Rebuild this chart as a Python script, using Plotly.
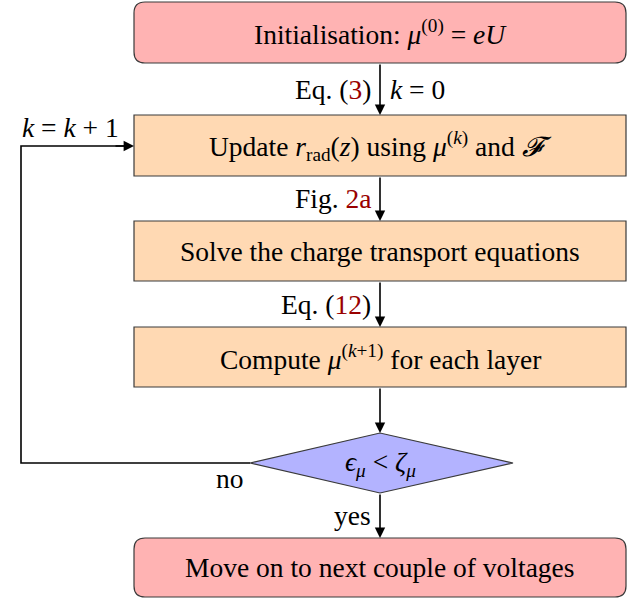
"""
Flowchart of the iterative mu / r_rad update loop, drawn with Plotly shapes.
"""

import plotly.graph_objects as go


# ==========================================================
# Data
# ==========================================================

LINK = "#990000"

node_labels = [
    "Initialisation: <i>μ</i><sup>(0)</sup> = <i>eU</i>",
    "Update <i>r</i><sub>rad</sub>(<i>z</i>) using <i>μ</i><sup>(<i>k</i>)</sup> and <i>𝓕</i>",
    "Solve the charge transport equations",
    "Compute <i>μ</i><sup>(<i>k</i>+1)</sup> for each layer",
    "<i>ϵ</i><sub><i>μ</i></sub> &lt; <i>ζ</i><sub><i>μ</i></sub>",
    "Move on to next couple of voltages",
]

node_kinds = ["start", "step", "step", "step", "test", "start"]

edge_left_labels = [
    f"Eq. (<span style='color:{LINK}'>3</span>)",
    f"Fig. <span style='color:{LINK}'>2a</span>",
    f"Eq. (<span style='color:{LINK}'>12</span>)",
    "",
    "yes",
]

edge_right_labels = ["<i>k</i> = 0", "", "", "", ""]

loop_label = "<i>k</i> = <i>k</i> + 1"
no_label = "no"


# ==========================================================
# Layout geometry (pixels)
# ==========================================================

W, H = 639, 598
CX = 380
BOX_X0, BOX_X1 = 134, 626
node_y = [(2, 63), (115, 176), (221, 281), (327, 387), (433, 493), (538, 597)]
DIA_X0, DIA_X1 = 250, 513
LOOP_X = 21
LOOP_Y = 146

fill = {"start": "#ffb3b3", "step": "#ffd9b3", "test": "#b3b3ff"}

FONT = "Liberation Serif, Times New Roman, serif"
FS = 27.5


def rounded_rect(x0, y0, x1, y1, r):
    return (
        f"M {x0 + r},{y0} L {x1 - r},{y0} Q {x1},{y0} {x1},{y0 + r} "
        f"L {x1},{y1 - r} Q {x1},{y1} {x1 - r},{y1} "
        f"L {x0 + r},{y1} Q {x0},{y1} {x0},{y1 - r} "
        f"L {x0},{y0 + r} Q {x0},{y0} {x0 + r},{y0} Z"
    )


def text(x, y, label, xanchor="center"):
    return dict(
        x=x, y=y, text=label, showarrow=False,
        xanchor=xanchor, yanchor="middle",
        font=dict(size=FS, color="black", family=FONT),
    )


def arrow(x, y, ax, ay):
    return dict(
        x=x, y=y, ax=ax, ay=ay,
        xref="x", yref="y", axref="x", ayref="y",
        text="", showarrow=True,
        arrowhead=2, arrowsize=1.3, arrowwidth=1.6,
        arrowcolor="black",
    )


fig = go.Figure()

shapes = []
annotations = []

for label, kind, (y0, y1) in zip(node_labels, node_kinds, node_y):

    ym = (y0 + y1) / 2

    if kind == "start":
        path = rounded_rect(BOX_X0, y0, BOX_X1, y1, 11)
    elif kind == "step":
        path = f"M {BOX_X0},{y0} L {BOX_X1},{y0} L {BOX_X1},{y1} L {BOX_X0},{y1} Z"
    else:
        path = f"M {DIA_X0},{ym} L {CX},{y0} L {DIA_X1},{ym} L {CX},{y1} Z"

    shapes.append(
        dict(
            type="path",
            path=path,
            fillcolor=fill[kind],
            line=dict(color="#3a3a3a", width=1.2),
            layer="below",
        )
    )

    xm = (BOX_X0 + BOX_X1) / 2 if kind != "test" else CX
    annotations.append(text(xm, ym, label))

# vertical arrows between nodes
for i in range(len(node_y) - 1):

    y_from = node_y[i][1]
    y_to = node_y[i + 1][0]
    ym = (y_from + y_to) / 2

    annotations.append(arrow(CX, y_to, CX, y_from))

    if edge_left_labels[i]:
        annotations.append(text(CX - 7, ym, edge_left_labels[i], "right"))

    if edge_right_labels[i]:
        annotations.append(text(CX + 8, ym, edge_right_labels[i], "left"))

# feedback loop: diamond left tip -> left -> up -> into update box
dia_y = sum(node_y[4]) / 2

shapes.append(
    dict(
        type="path",
        path=f"M {DIA_X0},{dia_y} L {LOOP_X},{dia_y} L {LOOP_X},{LOOP_Y} L {BOX_X0 - 6},{LOOP_Y}",
        line=dict(color="black", width=1.6),
    )
)

annotations.append(arrow(BOX_X0, LOOP_Y, BOX_X0 - 20, LOOP_Y))
annotations.append(text(70, LOOP_Y - 19, loop_label))
annotations.append(text(DIA_X0 - 4, dia_y + 15, no_label, "right"))

fig.update_layout(
    width=W,
    height=H,
    margin=dict(l=0, r=0, t=0, b=0),
    paper_bgcolor="white",
    plot_bgcolor="white",
    showlegend=False,
    shapes=shapes,
    annotations=annotations,
    xaxis=dict(range=[0, W], visible=False, fixedrange=True),
    yaxis=dict(range=[H, 0], visible=False, fixedrange=True),
)

# drop the default page margin so the figure sits at the window's corner
fig.write_html(
    "out.html",
    config={"displayModeBar": False},
    post_script="document.body.style.margin='0';",
)
